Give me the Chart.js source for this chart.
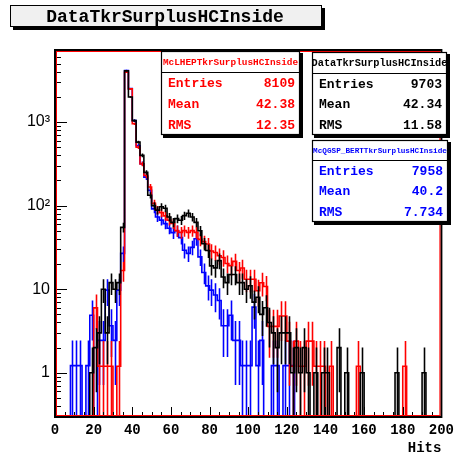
<!DOCTYPE html>
<html><head><meta charset="utf-8">
<script src="https://cdn.jsdelivr.net/npm/chart.js@4.4.1/dist/chart.umd.min.js"></script>
<style>html,body{margin:0;padding:0;background:#fff;overflow:hidden}#c{display:block}</style>
</head><body>
<canvas id="c" width="459" height="457"></canvas>
<script>
// ---- histogram definition ----
const X_MIN = 0, X_MAX = 200, BIN_WIDTH = 2;
const Y_MIN = 0.2956, Y_MAX = 7290;
const xTickValues = [0, 20, 40, 60, 80, 100, 120, 140, 160, 180, 200];
const yTickValues = [1, 10, 100, 1000];
const yTickLabels = ['1', '10', '10\u00B2', '10\u00B3'];
const xTitle = 'Hits';
const plotTitle = 'DataTkrSurplusHCInside';

// bin contents (100 bins of width 2, 0..200)
const dataCounts = [
  0,0,0,0,0,0,0,0,0,1,
  2,3,10,3,12,10,12,55,4100,2000,
  1040,575,400,250,133,100,88,97,93,73,
  63,70,67,76,81,73,63,50,35,29,
  19,18,22,14,12,15,15,12,12,10,
  11,7,8,5,6,4,3,2,3,3,
  3,1,2,1,2,1,0,1,0,1,
  1,0,0,2,0,1,0,0,0,1,
  0,0,0,0,0,0,0,0,1,0,
  0,0,0,0,0,1,0,0,0,0
];
const lhepCounts = [
  0,0,0,0,0,0,0,0,0,0,
  5,1,1,1,1,0,1,14,3300,2090,
  800,418,263,192,140,89,74,69,63,56,
  51,42,40,42,40,42,40,33,31,29,
  24,23,21,20,17,16,18,14,15,11,
  11,11,8,10,9,3,3,3,4,4,
  2,1,2,1,1,2,2,1,1,1,
  0,1,0,0,0,0,0,0,1,0,
  0,0,0,0,0,0,0,0,0,0,
  1,0,0,0,0,0,0,0,0,0
];
const qgspCounts = [
  0,0,0,0,1,1,1,0,1,4,
  0,2,2,8,3,2,8,22,3400,2060,
  853,427,260,180,125,75,60,55,50,44,
  39,41,34,24,22,26,33,20,13,9,
  8,7,6,3,3,4,2,2,1,1,
  1,5,1,2,0,0,1,1,0,1,
  1,1,0,0,0,0,0,0,0,0,
  0,0,0,0,0,0,0,0,0,0,
  0,0,0,0,0,0,0,0,0,0,
  0,0,0,0,0,0,0,0,0,0
];

// statistics boxes
const dataName = 'DataTkrSurplusHCInside';
const lhepName = 'McLHEPTkrSurplusHCInside';
const qgspName = 'McQGSP_BERTTkrSurplusHCInside';
const statLabels = ['Entries', 'Mean', 'RMS'];
const dataStats = ['9703', '42.34', '11.58'];
const lhepStats = ['8109', '42.38', '12.35'];
const qgspStats = ['7958', '40.2', '7.734'];
const dataEntries = 9703, lhepEntries = 8109, qgspEntries = 7958;

// MC histograms normalised to the data entries
const lhepScale = dataEntries / lhepEntries;
const qgspScale = dataEntries / qgspEntries;

const MONO = "'Liberation Mono','DejaVu Sans Mono',monospace";
const SANS = "'Liberation Sans','DejaVu Sans',sans-serif";

function stepPoints(counts, scale) {
  const pts = [{x: X_MIN, y: Y_MIN}];
  counts.forEach((c, i) => {
    const v = Math.max(c * scale, Y_MIN);
    pts.push({x: X_MIN + i * BIN_WIDTH, y: v});
    pts.push({x: X_MIN + (i + 1) * BIN_WIDTH, y: v});
  });
  pts.push({x: X_MAX, y: Y_MIN});
  return pts;
}

function histDataset(label, counts, scale, color) {
  return {
    label, data: stepPoints(counts, scale), binCounts: counts, binScale: scale,
    borderColor: color, borderWidth: 1.6, pointRadius: 0, tension: 0, fill: false
  };
}

const errorBarPlugin = {
  id: 'errbars',
  afterDatasetDraw(chart, args) {
    const ds = chart.data.datasets[args.index];
    if (!ds.binCounts) return;
    const {ctx, chartArea: a, scales: {x, y}} = chart;
    ctx.save();
    ctx.beginPath(); ctx.rect(a.left, a.top, a.right - a.left, a.bottom - a.top); ctx.clip();
    ctx.strokeStyle = ds.borderColor; ctx.lineWidth = 1.6;
    ctx.beginPath();
    ds.binCounts.forEach((c, i) => {
      if (c <= 0) return;
      const v = c * ds.binScale, e = Math.sqrt(c) * ds.binScale;
      const px = Math.round(x.getPixelForValue(X_MIN + (i + 0.5) * BIN_WIDTH)) + 0.5;
      const lo = v - e > Y_MIN ? y.getPixelForValue(v - e) : a.bottom;
      const hi = y.getPixelForValue(Math.min(v + e, Y_MAX));
      ctx.moveTo(px, lo); ctx.lineTo(px, hi);
    });
    ctx.stroke();
    ctx.restore();
  }
};

function statBox(ctx, x, y, w, h, headH, color, name, nameFont, vals) {
  ctx.save();
  ctx.fillStyle = '#000';
  ctx.fillRect(x + 2, y + 2, w + 1, h + 1);
  ctx.fillStyle = '#fff';
  ctx.fillRect(x, y, w, h);
  ctx.strokeStyle = '#000'; ctx.lineWidth = 1.2;
  ctx.strokeRect(x + 0.5, y + 0.5, w - 1, h - 1);
  ctx.beginPath(); ctx.moveTo(x, y + headH + 0.5); ctx.lineTo(x + w, y + headH + 0.5); ctx.stroke();
  ctx.fillStyle = color;
  ctx.textBaseline = 'middle';
  ctx.font = nameFont;
  ctx.textAlign = 'center';
  ctx.fillText(name, x + w / 2, y + headH / 2 + 1);
  ctx.font = 'bold 13px ' + MONO;
  const rowH = (h - headH) / 3;
  statLabels.forEach((lab, i) => {
    const ty = y + headH + rowH * (i + 0.5) + 1;
    ctx.textAlign = 'left'; ctx.fillText(lab, x + 7, ty);
    ctx.textAlign = 'right'; ctx.fillText(vals[i], x + w - 5, ty);
  });
  ctx.restore();
}

const decorPlugin = {
  id: 'decor',
  afterDatasetsDraw(chart) {
    const {ctx, chartArea: a, scales: {x, y}} = chart;
    ctx.save();
    // ticks (inside)
    ctx.strokeStyle = '#000'; ctx.lineWidth = 1;
    ctx.beginPath();
    for (let v = X_MIN; v <= X_MAX; v += 5) {
      const px = Math.round(x.getPixelForValue(v)) + 0.5;
      const len = v % 20 === 0 ? 10 : 5;
      ctx.moveTo(px, a.bottom); ctx.lineTo(px, a.bottom - len);
    }
    for (let k = -1; k <= 3; k++) {
      for (let m = 1; m <= 9; m++) {
        const v = m * Math.pow(10, k);
        if (v < Y_MIN || v > Y_MAX) continue;
        const py = Math.round(y.getPixelForValue(v)) + 0.5;
        const len = m === 1 ? 12 : 6;
        ctx.moveTo(a.left, py); ctx.lineTo(a.left + len, py);
      }
    }
    ctx.stroke();
    // frame
    ctx.lineWidth = 2; ctx.strokeStyle = '#000';
    ctx.strokeRect(a.left, a.top, a.right - a.left, a.bottom - a.top);
    ctx.lineWidth = 1; ctx.strokeStyle = '#ff0000';
    ctx.strokeRect(a.left + 1.5, a.top + 1.5, a.right - a.left - 3, a.bottom - a.top - 3);
    ctx.restore();
  },
  afterDraw(chart) {
    const ctx = chart.ctx;
    ctx.save();
    // title box
    ctx.fillStyle = '#000';
    ctx.fillRect(13, 8, 312, 22);
    ctx.fillStyle = '#f0f0f0';
    ctx.fillRect(10, 5, 312, 22);
    ctx.strokeStyle = '#000'; ctx.lineWidth = 1;
    ctx.strokeRect(10.5, 5.5, 311, 21);
    ctx.fillStyle = '#000';
    ctx.font = 'bold 18px ' + MONO;
    ctx.textAlign = 'center'; ctx.textBaseline = 'middle';
    ctx.fillText(plotTitle, 165, 17);
    ctx.restore();
    statBox(ctx, 161, 51, 139, 84, 21, '#ff0000', lhepName, 'bold 9.4px ' + MONO, lhepStats);
    statBox(ctx, 312, 52, 135, 83, 21, '#000000', dataName, 'bold 10.3px ' + MONO, dataStats);
    statBox(ctx, 312, 140, 136, 82, 20, '#0000ff', qgspName, 'bold 7.7px ' + MONO, qgspStats);
  }
};

new Chart(document.getElementById('c'), {
  type: 'line',
  data: {
    datasets: [
      histDataset(dataName, dataCounts, 1, '#000000'),
      histDataset(lhepName, lhepCounts, lhepScale, '#ff0000'),
      histDataset(qgspName, qgspCounts, qgspScale, '#0000ff')
    ]
  },
  options: {
    responsive: false, animation: false,
    layout: {padding: {left: 0, right: 14, top: 50, bottom: 0}},
    plugins: {legend: {display: false}, tooltip: {enabled: false}, title: {display: false}},
    elements: {line: {borderJoinStyle: 'miter'}},
    scales: {
      x: {
        type: 'linear', min: X_MIN, max: X_MAX,
        grid: {display: false, drawTicks: false}, border: {display: false},
        afterBuildTicks: s => { s.ticks = xTickValues.map(v => ({value: v})); },
        afterFit: s => { s.height = 40; },
        ticks: {color: '#000', font: {family: MONO, weight: 'bold', size: 14}, padding: 5, maxRotation: 0, autoSkip: false},
        title: {display: true, text: xTitle, align: 'end', color: '#000', font: {family: MONO, weight: 'bold', size: 14}, padding: {top: 0, bottom: 0}}
      },
      y: {
        type: 'logarithmic', min: Y_MIN, max: Y_MAX,
        grid: {display: false, drawTicks: false}, border: {display: false},
        afterBuildTicks: s => { s.ticks = yTickValues.map(v => ({value: v})); },
        afterFit: s => { s.width = 55; },
        ticks: {color: '#000', font: {family: SANS, size: 16}, padding: 5, autoSkip: false,
          callback: (v) => { const i = yTickValues.indexOf(v); return i >= 0 ? yTickLabels[i] : ''; }}
      }
    }
  },
  plugins: [errorBarPlugin, decorPlugin]
});
</script>
</body></html>
